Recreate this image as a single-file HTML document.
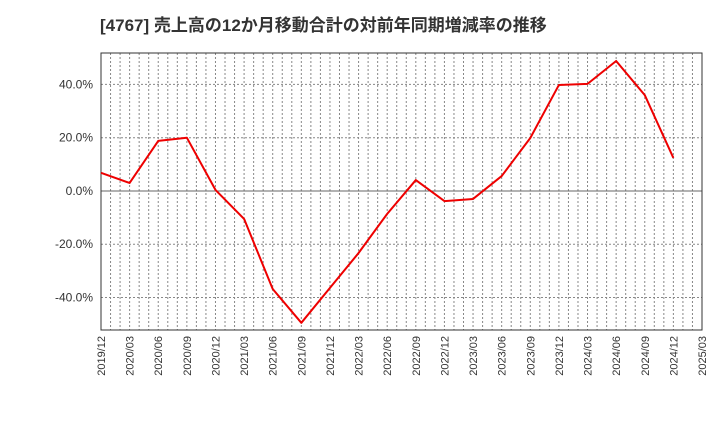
<!DOCTYPE html>
<html><head><meta charset="utf-8">
<style>
body{margin:0;background:#fff;}
svg{display:block;font-family:"Liberation Sans","Noto Sans CJK JP",sans-serif;}
</style></head>
<body>
<svg id="chart" width="720" height="440" viewBox="0 0 720 440" xmlns="http://www.w3.org/2000/svg">
<text x="100" y="31" font-size="17" font-weight="bold" fill="#333">[4767]  売上高の12か月移動合計の対前年同期増減率の推移</text>
<g id="grid"></g>
<g id="axes"></g>
<g id="series"></g>
</svg>
<script>
const categories=["2019/12","2020/03","2020/06","2020/09","2020/12","2021/03","2021/06","2021/09","2021/12","2022/03","2022/06","2022/09","2022/12","2023/03","2023/06","2023/09","2023/12","2024/03","2024/06","2024/09","2024/12"];
const xTickLabels=["2019/12","2020/03","2020/06","2020/09","2020/12","2021/03","2021/06","2021/09","2021/12","2022/03","2022/06","2022/09","2022/12","2023/03","2023/06","2023/09","2023/12","2024/03","2024/06","2024/09","2024/12","2025/03"];
const values=[6.8,3.0,18.8,20.0,0.4,-10.5,-36.8,-49.5,-36.4,-23.3,-8.6,4.1,-3.8,-3.0,5.6,19.9,39.8,40.2,48.8,36.0,12.4];
const yTicks=[-40,-20,0,20,40];
const L=101,R=702,T=53,B=330,yMin=-52.2,yMax=51.8;
const NS="http://www.w3.org/2000/svg";
const xq=i=>L+(R-L)*i/(xTickLabels.length-1);
const y=v=>B-(v-yMin)/(yMax-yMin)*(B-T);
function mk(tag,attrs,parent){const e=document.createElementNS(NS,tag);for(const k in attrs)e.setAttribute(k,attrs[k]);parent.appendChild(e);return e;}
const grid=document.getElementById('grid'),axes=document.getElementById('axes'),series=document.getElementById('series');
const nMonths=(xTickLabels.length-1)*3;
for(let m=1;m<nMonths;m++){
  const x=L+(R-L)*m/nMonths;
  const g=mk('line',{x1:x,x2:x,y1:T,y2:B,stroke:'#888','stroke-width':1,'stroke-dasharray':'2,2'},grid);
  
  
}
yTicks.forEach(v=>{
  const g=mk('line',{x1:L,x2:R,y1:y(v),y2:y(v),stroke:v===0?'#666':'#888','stroke-width':1,'stroke-dasharray':v===0?'none':'2,2'},grid);
  
  
  const t=mk('text',{x:L-8,y:y(v)+4,'text-anchor':'end','font-size':12,fill:'#333'},axes);
  t.textContent=v.toFixed(1)+'%';
  
  
});
const frame=mk('rect',{x:L,y:T,width:R-L,height:B-T,fill:'none',stroke:'#333','stroke-width':1},axes);


xTickLabels.forEach((lab,i)=>{
  const x=xq(i);
  const t=mk('text',{x:x+4,y:B+6,'text-anchor':'end','font-size':11,fill:'#333',transform:`rotate(-90 ${x+4} ${B+6})`},axes);
  t.textContent=lab;
  
  
});
const pts=values.map((v,i)=>xq(i)+','+y(v)).join(' ');
const line=mk('polyline',{points:pts,fill:'none',stroke:'#ee0000','stroke-width':2,'stroke-linejoin':'round'},series);


</script>
</body></html>
